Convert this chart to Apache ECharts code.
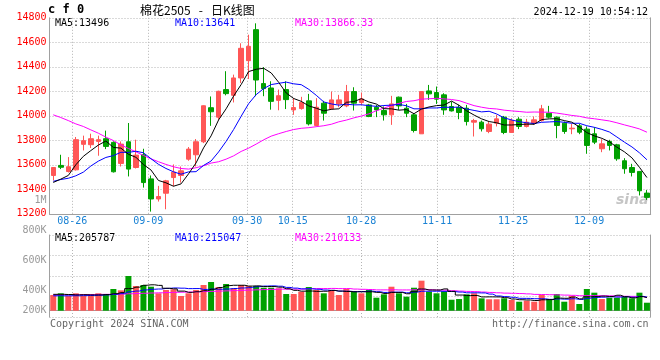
<!DOCTYPE html>
<html><head><meta charset="utf-8">
<script src="https://cdn.jsdelivr.net/npm/echarts@6/dist/echarts.min.js"></script>
<style>html,body{margin:0;padding:0;background:#fff}#c{width:660px;height:360px}</style>
</head><body><div id="c"></div>
<script>
const dates = ['08-21','08-22','08-23','08-26','08-27','08-28','08-29','08-30',
'09-02','09-03','09-04','09-05','09-06','09-09','09-10','09-11','09-12','09-13','09-18','09-19','09-20','09-23','09-24','09-25','09-26','09-27','09-30',
'10-08','10-09','10-10','10-11','10-14','10-15','10-16','10-17','10-18','10-21','10-22','10-23','10-24','10-25','10-28','10-29','10-30','10-31',
'11-01','11-04','11-05','11-06','11-07','11-08','11-11','11-12','11-13','11-14','11-15','11-18','11-19','11-20','11-21','11-22','11-25','11-26','11-27','11-28','11-29',
'12-02','12-03','12-04','12-05','12-06','12-09','12-10','12-11','12-12','12-13','12-16','12-17','12-18','12-19'];
const labelDates = ['08-26','09-09','09-30','10-15','10-28','11-11','11-25','12-09'];

const opens = [13513,13595,13545,13559,13767,13764,13791,13813,13783,13611,
13788,13578,13682,13485,13321,13368,13496,13513,13646,13682,
13788,14066,13989,14214,14167,14309,14450,14703,14263,14227,
14126,14214,14048,14059,14122,13921,14103,14057,14097,14081,
14198,14108,14089,14070,14043,14008,14152,14062,14008,13853,
14203,14190,14171,14076,14067,14062,13948,13948,13872,13940,
13989,13864,13972,13913,13940,13961,14021,13989,13940,13894,
13918,13891,13853,13731,13790,13763,13633,13578,13546,13369];
const closes = [13578,13580,13584,13805,13797,13813,13805,13750,13543,13769,
13565,13679,13455,13321,13341,13469,13540,13551,13728,13788,
14082,14033,14200,14181,14309,14551,14567,14292,14222,14118,
14164,14132,14067,14108,13934,14070,14021,14130,14130,14198,
14103,14138,13994,14048,14008,14097,14081,14021,13880,14198,
14179,14136,14048,14040,14027,13953,13961,13894,13932,13975,
13864,13961,13913,13948,13967,14057,13989,13921,13872,13899,
13866,13758,13785,13771,13758,13649,13568,13538,13388,13334];
const lows = [13472,13565,13537,13553,13717,13737,13674,13728,13537,13586,
13505,13570,13414,13218,13300,13237,13425,13455,13633,13586,
13777,13918,13967,14167,14109,14268,14300,14160,14160,14050,
14045,14055,14008,14050,13921,13913,13961,14049,14070,14070,
14043,14089,13989,13989,13961,13926,14049,13989,13864,13853,
14130,14097,14008,14035,13972,13921,13831,13872,13858,13913,
13850,13862,13891,13905,13926,13953,13980,13817,13853,13850,
13850,13690,13769,13703,13717,13633,13527,13505,13350,13313];
const highs = [13580,13682,13663,13827,13838,13854,13838,13879,13791,13791,
13941,13805,13731,13513,13428,13477,13603,13586,13745,13810,
14085,14158,14205,14364,14336,14592,14662,14755,14397,14282,
14214,14282,14144,14155,14179,14144,14122,14198,14171,14252,
14233,14190,14097,14089,14076,14163,14157,14097,14021,14200,
14252,14239,14184,14116,14089,14089,13975,13961,13953,14008,
13999,13980,13989,13975,13994,14089,14081,13994,13953,13934,
13934,13913,13907,13809,13804,13771,13654,13608,13546,13394];

const ma5 = [13456,13483,13513,13600,13669,13716,13761,13794,13742,13736,
13686,13661,13602,13558,13472,13453,13425,13444,13526,13615,
13738,13836,13966,14057,14161,14255,14361,14380,14388,14350,
14273,14186,14141,14118,14081,14062,14040,14053,14057,14110,
14116,14140,14113,14096,14058,14057,14046,14051,14017,14055,
14072,14083,14088,14120,14086,14041,14006,13975,13953,13943,
13925,13925,13929,13932,13931,13969,13975,13976,13961,13948,
13909,13863,13836,13816,13788,13744,13706,13657,13580,13496];
const ma10 = [13465,13480,13490,13510,13540,13590,13630,13660,13675,13702,
13701,13711,13698,13650,13604,13570,13543,13523,13542,13544,
13595,13631,13705,13791,13888,13996,14099,14173,14222,14255,
14265,14275,14261,14254,14216,14167,14113,14097,14087,14095,
14089,14090,14083,14077,14084,14087,14093,14082,14057,14057,
14064,14064,14070,14069,14071,14056,14044,14032,14037,14015,
13983,13966,13952,13943,13937,13947,13950,13953,13947,13939,
13939,13919,13906,13889,13868,13827,13785,13746,13698,13641];
const ma30 = [14008,13986,13961,13934,13913,13885,13858,13826,13798,13763,
13733,13706,13676,13649,13625,13603,13584,13570,13565,13576,
13592,13614,13625,13646,13673,13709,13736,13769,13804,13834,
13854,13872,13888,13898,13903,13911,13919,13931,13951,13965,
13983,13998,14016,14041,14063,14084,14102,14117,14123,14136,
14139,14143,14138,14133,14124,14103,14083,14070,14060,14056,
14046,14040,14035,14029,14031,14030,14029,14022,14013,14003,
13996,13983,13976,13967,13958,13943,13926,13910,13893,13866];

const volumes = [247000,274000,232000,274000,232000,232000,274000,258000,342000,321000,
547000,389000,405000,378000,274000,326000,337000,232000,274000,326000,
405000,452000,373000,421000,353000,405000,389000,389000,362000,362000,
353000,263000,263000,299000,373000,326000,274000,326000,247000,342000,
299000,274000,326000,205000,258000,378000,274000,221000,362000,473000,
299000,274000,306000,173000,184000,258000,274000,195000,180000,180000,
195000,169000,142000,158000,142000,247000,184000,263000,142000,236000,
106000,342000,284000,184000,205000,205000,221000,195000,284000,126000];
const volMa5 = [258000,258000,255000,250000,252000,249000,249000,254000,268000,285000,
348000,371000,401000,408000,399000,354000,344000,309000,289000,299000,
315000,338000,366000,395000,401000,401000,388000,391000,380000,381000,
371000,346000,321000,308000,310000,305000,307000,320000,309000,303000,
298000,298000,298000,289000,272000,288000,288000,267000,299000,342000,
326000,326000,343000,305000,247000,239000,239000,217000,218000,217000,
205000,184000,173000,169000,161000,172000,175000,199000,196000,214000,
186000,218000,222000,230000,224000,244000,220000,202000,222000,205787];
const volMa10 = [235000,235000,235000,236000,238000,240000,244000,250000,258000,269000,
299000,310000,327000,338000,342000,351000,358000,355000,348000,349000,
335000,341000,338000,342000,350000,358000,363000,379000,388000,391000,
386000,367000,356000,344000,346000,338000,326000,320000,309000,307000,
301000,302000,309000,299000,288000,293000,293000,282000,294000,307000,
307000,307000,305000,302000,294000,282000,282000,280000,262000,232000,
222000,211000,195000,194000,189000,188000,179000,186000,182000,188000,
179000,196000,210000,213000,219000,215000,219000,212000,226000,215047];
const volMa30 = [250000,251000,252000,253000,254000,255000,257000,258000,260000,263000,
267000,271000,275000,279000,282000,286000,289000,292000,295000,298000,
302000,305000,309000,313000,317000,321000,325000,329000,333000,336000,
340000,339000,340000,341000,346000,349000,349000,351000,348000,349000,
341000,337000,334000,328000,328000,330000,327000,327000,330000,335000,
331000,325000,323000,315000,309000,304000,301000,294000,288000,282000,
277000,274000,270000,265000,257000,255000,252000,249000,246000,242000,
236000,238000,237000,236000,234000,229000,227000,226000,223000,210133];

const priceMin = 13200, priceMax = 14800, priceStep = 200;
const volLabelValues = [200000, 400000, 600000, 800000];

const RED = '#ff5656', GREEN = '#00a000', GRID = '#b4b4b4', AXIS = '#a0a0a0';
const MONO = '"DejaVu Sans Mono", "Liberation Mono", monospace';
const isLabel = (i, v) => labelDates.indexOf(v) >= 0;

const chart = echarts.init(document.getElementById('c'), null, {renderer: 'canvas'});
const L = 49.5, W = 601.2, WG = 600.4;
const txt = (text, x, y, fill, font, align) => ({
  type: 'text', x: x, y: y, silent: true,
  style: {text: text, fill: fill, font: font, align: align || 'left', verticalAlign: 'middle',
          textAlign: align || 'left', textVerticalAlign: 'middle'}
});

chart.setOption({
  animation: false,
  backgroundColor: '#ffffff',
  grid: [
    {left: L, top: 17.8, width: W, height: 196},
    {left: L, top: 17.8, width: WG, height: 196},
    {left: L, top: 235, width: W, height: 82},
    {left: L, top: 235, width: WG, height: 82},
    {left: L, top: 230.3, width: W, height: 90}
  ],
  xAxis: [
    {gridIndex: 0, type: 'category', data: dates, boundaryGap: true,
     axisLine: {lineStyle: {color: AXIS, width: 1}}, axisTick: {show: false}, axisLabel: {show: false}, splitLine: {show: false}},
    {gridIndex: 1, type: 'category', data: dates, boundaryGap: false,
     axisLine: {show: false}, axisTick: {show: false},
     axisLabel: {interval: isLabel, color: '#1a82d4', fontFamily: MONO, fontSize: 10, margin: 3},
     splitLine: {show: true, interval: isLabel, lineStyle: {color: GRID, type: [1, 2], width: 1}}},
    {gridIndex: 2, type: 'category', data: dates, boundaryGap: true,
     axisLine: {lineStyle: {color: AXIS, width: 1}}, axisTick: {show: false}, axisLabel: {show: false}, splitLine: {show: false}},
    {gridIndex: 3, type: 'category', data: dates, boundaryGap: false,
     axisLine: {show: false}, axisTick: {show: false}, axisLabel: {show: false},
     splitLine: {show: true, interval: isLabel, lineStyle: {color: GRID, type: [1, 2], width: 1}}},
    {gridIndex: 4, type: 'category', data: dates, show: false}
  ],
  yAxis: [
    {gridIndex: 0, type: 'value', min: priceMin, max: priceMax, interval: priceStep, position: 'left',
     axisLine: {show: true, lineStyle: {color: AXIS}}, axisTick: {show: false},
     axisLabel: {color: '#ff0000', fontFamily: MONO, fontSize: 10, margin: 3, padding: [0, 0, 4, 0],
                 formatter: v => String(v)},
     splitLine: {show: true, lineStyle: {color: GRID, type: [1, 2], width: 1}}},
    {gridIndex: 0, type: 'value', min: priceMin, max: priceMax, interval: priceStep, position: 'right',
     axisLine: {show: true, lineStyle: {color: AXIS}}, axisTick: {show: false}, axisLabel: {show: false}, splitLine: {show: false}},
    {gridIndex: 1, type: 'value', show: false},
    {gridIndex: 2, type: 'value', min: -99000, max: 1192500, position: 'left',
     axisLine: {show: true, lineStyle: {color: AXIS}}, axisTick: {show: false}, axisLabel: {show: false}, splitLine: {show: false}},
    {gridIndex: 2, type: 'value', min: 0, max: 4, interval: 1, position: 'right',
     axisLine: {show: true, lineStyle: {color: AXIS}}, axisTick: {show: false}, axisLabel: {show: false},
     splitLine: {show: true, lineStyle: {color: GRID, type: [1, 2], width: 1}}},
    {gridIndex: 3, type: 'value', show: false},
    {gridIndex: 4, type: 'value', min: volLabelValues[0], max: volLabelValues[3], interval: 200000, position: 'left',
     axisLine: {show: false}, axisTick: {show: false}, splitLine: {show: false},
     axisLabel: {margin: 3,
       formatter: v => (v === volLabelValues[0] ? '{r|' : '{n|') + (v / 1000) + 'K}',
       rich: {n: {color: '#999999', fontFamily: MONO, fontSize: 10},
              r: {color: '#999999', fontFamily: MONO, fontSize: 10, padding: [0, 0, 19, 0]}}}}
  ],
  series: [
    {type: 'candlestick', xAxisIndex: 0, yAxisIndex: 0, barWidth: 5, silent: true,
     data: dates.map((d, i) => [opens[i], closes[i], lows[i], highs[i]]),
     itemStyle: {color: RED, color0: GREEN, borderColor: RED, borderColor0: GREEN, borderWidth: 1}},
    {type: 'line', xAxisIndex: 0, yAxisIndex: 0, data: ma30, symbol: 'none', silent: true, lineStyle: {color: '#ff00ff', width: 1}},
    {type: 'line', xAxisIndex: 0, yAxisIndex: 0, data: ma10, symbol: 'none', silent: true, lineStyle: {color: '#0000ff', width: 1}},
    {type: 'line', xAxisIndex: 0, yAxisIndex: 0, data: ma5, symbol: 'none', silent: true, lineStyle: {color: '#000000', width: 1}},
    {type: 'bar', xAxisIndex: 2, yAxisIndex: 3, data: volumes, barWidth: 6, silent: true,
     itemStyle: {color: p => closes[p.dataIndex] >= opens[p.dataIndex] ? RED : GREEN}},
    {type: 'line', xAxisIndex: 2, yAxisIndex: 3, data: volMa30, step: 'middle', symbol: 'none', silent: true, lineStyle: {color: '#ff00ff', width: 1}},
    {type: 'line', xAxisIndex: 2, yAxisIndex: 3, data: volMa10, step: 'middle', symbol: 'none', silent: true, lineStyle: {color: '#0000ff', width: 1}},
    {type: 'line', xAxisIndex: 2, yAxisIndex: 3, data: volMa5, step: 'middle', symbol: 'none', silent: true, lineStyle: {color: '#000000', width: 1}}
  ],
  graphic: [
    txt('c f 0', 48, 10, '#000', 'bold 12px ' + MONO),
    txt('棉花2505   -   日K线图', 140, 10, '#000', '12px "Noto Sans CJK SC"'),
    txt('2024-12-19 10:54:12', 648, 12, '#000', '10px ' + MONO, 'right'),
    txt('MA5:13496', 55, 23.7, '#000', '10px ' + MONO),
    txt('MA10:13641', 175, 23.7, '#0000ff', '10px ' + MONO),
    txt('MA30:13866.33', 295, 23.7, '#ff00ff', '10px ' + MONO),
    txt('1M', 46.5, 200.3, '#999999', '10px ' + MONO, 'right'),
    txt('MA5:205787', 55, 238.5, '#000', '10px ' + MONO),
    txt('MA10:215047', 175, 238.5, '#0000ff', '10px ' + MONO),
    txt('MA30:210133', 295, 238.5, '#ff00ff', '10px ' + MONO),
    txt('Copyright 2024 SINA.COM', 50, 324, '#666666', '10px ' + MONO),
    txt('http://finance.sina.com.cn', 648.5, 324, '#666666', '10px ' + MONO, 'right'),
    txt('sina', 616, 200, 'rgba(150,150,150,0.55)', 'italic bold 14px "DejaVu Sans"')
  ]
});
</script></body></html>
